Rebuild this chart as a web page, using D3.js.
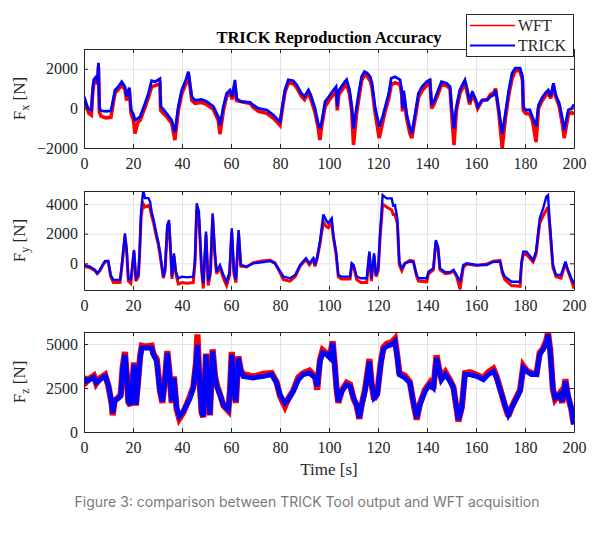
<!DOCTYPE html>
<html><head><meta charset="utf-8">
<script src="https://cdn.jsdelivr.net/npm/d3@7/dist/d3.min.js"></script>
<style>body{margin:0;background:#fff}svg{display:block}</style>
</head><body><svg id="c" width="600" height="533"></svg>
<script>
// ---------- DATA ----------
const titleText = "TRICK Reproduction Accuracy";
const seriesNames = ["WFT", "TRICK"];
const timeTicks = [0, 20, 40, 60, 80, 100, 120, 140, 160, 180, 200];
const fxTicks = [-2000, 0, 2000];
const fyTicks = [0, 2000, 4000];
const fzTicks = [0, 2500, 5000];
const xLabel = "Time [s]";
const caption = "Figure 3: comparison between TRICK Tool output and WFT acquisition";

// rows: [time s, WFT N, TRICK N]
const fxRows = [
[0,550,600],[1,100,200],[2,-250,-50],[3,-340,-80],[3.5,700,900],[4,1300,1450],[5,1450,1600],[5.5,1200,1300],
[5.9,2100,2300],[6.3,-200,0],[7,-400,-120],[9,-480,-150],[11,-450,-120],[12,300,500],[12.7,800,930],[14,950,1100],
[15.4,1200,1350],[16.7,950,1100],[17.4,400,600],[18.5,950,1050],[19.2,-250,-80],[20.2,-600,-300],[20.8,-1270,-600],
[22,-700,-500],[22.9,-600,-420],[24.9,50,250],[26.3,550,760],[27.6,1100,1400],[29,1150,1350],[31,1250,1500],
[31.3,-100,100],[32.4,-250,-50],[34,-450,-300],[35.8,-750,-600],[37.1,-1600,-1200],[38.5,-100,100],[39.9,750,930],
[41.6,1250,1440],[42.6,1750,1860],[44,400,600],[45.3,250,400],[48,300,450],[50,200,350],[52.8,-50,100],
[54.8,-600,-420],[55.5,-1300,-850],[56.9,-100,100],[58.2,600,760],[59.6,800,930],[60.5,450,600],[61.6,1200,1440],
[62.3,400,500],[64,350,340],[67.8,250,300],[69.1,50,170],[71.2,-150,0],[74.6,-250,-80],[77.3,-500,-340],
[79.3,-750,-600],[80,-850,-680],[80.7,-250,-100],[82,800,930],[83.4,1300,1440],[85.4,1250,1400],[86.8,1050,1190],
[88.8,600,760],[90,450,600],[91.6,800,930],[92.5,500,700],[94.3,-200,0],[95.6,-1000,-760],[96.3,-1600,-1020],
[97,-900,-700],[98.4,100,340],[100,400,600],[101.8,700,930],[102.9,900,1100],[103.4,-100,100],[104,700,900],
[106.5,1150,1350],[107.2,1250,1450],[108.4,700,930],[109.3,-150,85],[110,-1850,-1020],[111.3,-200,85],
[112.3,600,900],[113.3,1400,1600],[114.5,1700,1860],[115.5,1650,1800],[116.8,1400,1600],[117.5,1100,1300],
[118.8,-200,85],[120.5,-1500,-930],[121.9,-700,-420],[123,-100,100],[124.4,500,760],[125.4,1200,1520],
[127,1300,1600],[129,1200,1440],[129.7,700,900],[130,-150,0],[130.5,700,900],[131.7,-500,-300],[133.1,-1300,-1020],
[133.8,-1500,-1270],[135.2,-450,-250],[136.5,550,760],[138,900,1100],[139.9,1150,1350],[141.2,1300,1440],
[141.9,0,170],[143,250,400],[144.6,750,930],[145.9,1200,1350],[148,1150,1270],[149.4,1000,1100],[150,-100,85],
[151,-1850,-1020],[152,-100,85],[153.4,750,930],[154.8,1100,1270],[155.5,1300,1440],[156.5,750,930],[157.4,200,340],
[158.5,700,850],[160,300,420],[160.7,0,85],[162.5,400,420],[164.6,450,420],[165.9,700,600],[167.3,800,680],
[168,1000,930],[169.3,-200,-80],[170.7,-2000,-1270],[172,-500,-250],[173.4,700,930],[174.7,1500,1780],
[176,1900,2030],[178,1900,2030],[179,1400,1600],[179.3,-100,85],[180.3,-250,-80],[182,-300,-80],[183,-600,-420],
[184.5,-1700,-900],[185.5,0,170],[186.8,350,500],[188.2,600,760],[189.5,800,930],[190.5,500,600],[191.6,1150,1270],
[192.5,600,700],[194,100,250],[195.4,-900,-600],[196,-1500,-1100],[197.7,-300,-80],[199,-200,0],[200,-300,200]
];

const fyRows = [
[0,-200,-110],[2.4,-300,-220],[4.5,-500,-450],[5.4,-700,-670],[6.5,-500,-450],[7.6,-150,-110],[8.6,100,160],
[9.9,100,160],[10.9,-900,-790],[12,-1300,-1120],[14.7,-1300,-1120],[15.4,-300,-200],[16.7,1800,2020],[17.4,800,1000],
[18.1,-1200,-1010],[19.1,-1350,-1120],[20.4,800,900],[21.2,-1200,-1010],[22.2,-900,-790],[22.7,600,800],
[23.3,3100,3500],[23.9,3800,4500],[24.2,4000,4880],[24.9,3800,4400],[26.3,3900,4400],[27,3700,4150],[27.6,3200,3480],
[28.3,2800,3030],[29.4,1900,2130],[30.3,1300,1460],[31,600,790],[31.7,-200,-110],[32.4,-1000,-900],[33.1,-500,-340],
[34,2300,2580],[34.7,2700,2920],[35.4,600,790],[35.9,-1050,-900],[36.7,500,670],[37.5,-700,-560],[38.5,-1400,-1010],
[40,-1300,-900],[42,-1350,-950],[44.6,-1300,-900],[45.3,0,200],[46,3600,4050],[46.9,3000,3500],[48,-500,-340],
[48.7,-1700,-1350],[49.8,1900,2140],[50.7,-1500,-1230],[51.6,-700,-560],[52.5,3100,3370],[53.4,600,790],
[54.1,-700,-560],[55.5,-300,-110],[56.9,-1000,-790],[58.2,-1500,-1230],[59.4,-800,-600],[60.3,2100,2360],
[61.2,-700,-560],[62,-1300,-1120],[63.1,2000,2250],[64,-200,-110],[66.4,-250,-220],[69.1,50,0],[72.5,150,70],
[75.9,200,160],[77.9,50,0],[79.3,-400,-340],[81.4,-1100,-900],[84.1,-1200,-1010],[86.2,-900,-790],[88.2,-200,-110],
[90.6,250,340],[92,-100,0],[93.6,250,340],[94.3,-200,-110],[95.2,350,450],[96.3,1300,1460],[97.7,2800,3300],
[98.8,2500,2920],[99.7,2400,2700],[101.1,2700,3030],[101.8,1700,1900],[102.9,600,790],[103.8,-900,-790],
[105,-1050,-900],[108.6,-1050,-900],[109.3,-100,0],[110,-200,-110],[111.3,-1100,-900],[113,-1300,-1010],
[115.4,-1300,-1010],[116.5,600,800],[117.3,-1200,-1010],[118.4,500,670],[119.2,-900,-790],[120.1,-500,-340],
[120.8,1600,1900],[121.9,4000,4600],[123.5,3800,4380],[125.6,3600,4380],[126.2,3300,3900],[126.9,3300,3930],
[127.9,2700,3030],[128.7,-100,110],[129.7,-500,-340],[131,0,0],[133,200,110],[134.4,150,110],[135.8,-900,-790],
[136.5,-1200,-1010],[139.9,-1250,-1010],[140.6,-700,-560],[142.6,-450,-340],[143.6,1400,1570],[144.5,1000,1120],
[145.3,-450,-340],[147.5,-700,-600],[149.4,-650,-600],[150.8,-500,-450],[152.1,-900,-790],[153.5,-1750,-1240],
[154.8,-300,-110],[156.2,-50,0],[160.3,-150,-110],[164.4,-50,-110],[167.1,150,110],[169.8,200,110],[170.8,-700,-560],
[171.8,-1100,-900],[174.5,-1500,-1240],[178,-1550,-1240],[178.6,0,110],[179.3,600,790],[180.6,600,790],
[183.3,100,220],[184.5,600,790],[186,2700,3030],[187.4,3200,3700],[188.7,3600,4500],[189.4,3800,4600],
[190,2700,3030],[191.4,-300,-110],[192.7,-900,-790],[194.7,-1000,-790],[196.5,0,110],[197.3,-400,-340],
[198.9,-1150,-1010],[200,-1700,-1350]
];

const fzRows = [
[0,3150,3070],[1,2850,2900],[2.4,3050,2970],[4,3200,3100],[5,2750,2800],[6.5,3050,2970],[8.6,3250,3170],
[9.9,2650,2690],[11.3,1600,1650],[11.7,950,1080],[12.5,1800,1740],[14,1950,1930],[15,2150,2030],[15.8,3700,3640],
[16.7,4550,4390],[17.4,3300,3260],[18.1,1700,1740],[19,1500,1550],[20.4,3950,3830],[21.2,1500,1550],[22,2750,2690],
[22.9,4300,4200],[23.6,4900,4770],[25,4850,4770],[27.6,4900,4770],[28.3,4450,4390],[29.7,4150,4010],[31,2350,2310],
[32,1650,1740],[33,2950,2880],[34,4600,4490],[34.8,3500,3450],[35.8,1650,1740],[36.7,3150,3070],[37.8,1300,1360],
[38.9,750,890],[40.5,1100,1170],[42,1600,1550],[43.3,2050,1930],[44.6,2550,2500],[45.7,3900,3830],[46.3,5550,4960],
[47,3300,3260],[48,1100,1170],[48.7,850,890],[49.8,4450,4390],[50.7,2350,2310],[51.4,950,980],[52.5,4700,4580],
[53.5,3150,3070],[54.4,2600,2500],[55.5,2150,2120],[56.9,1500,1550],[58.2,1300,1360],[58.9,1200,1270],[59.6,2400,2310],
[60.3,4550,4390],[61.2,2350,2310],[62,1650,1740],[63,4300,4200],[64,3500,3450],[65,3300,3160],[69.1,3150,3070],
[73.2,3300,3160],[76.6,3350,3260],[78.6,2850,2780],[80,2050,2120],[82,1450,1650],[83.4,1900,1840],[85.4,2350,2310],
[87.5,3100,2970],[89.5,3350,3260],[92,3500,3350],[94.3,3150,3070],[95.2,2400,2590],[96.3,4100,3980],[97.4,4650,4490],
[99,4450,4390],[100.4,4300,4200],[101.5,5150,5060],[102.3,3900,3830],[103.1,2450,2500],[103.8,1650,1740],
[105.2,2350,2310],[107.2,2800,2690],[108.6,2700,2600],[110,1900,1930],[111.3,1500,1550],[112.4,750,800],
[113.4,1600,1550],[114.7,2400,2310],[116.5,4150,4010],[117.4,2750,2690],[118.4,1850,1930],[119.7,2200,2120],
[121.1,3900,3830],[122.2,4800,4680],[123.5,5000,4870],[125.6,5100,4960],[126.9,5300,5150],[127.9,4300,4200],
[128.7,3350,3260],[131,3200,3070],[133,2850,2780],[134.4,1700,1740],[135.8,700,800],[137.1,1600,1550],
[139.2,2400,2310],[141.2,2800,2690],[142.6,2450,2500],[143.9,4350,4200],[144.8,3700,3640],[145.9,3050,2970],
[147.5,3400,3260],[149.4,2950,2880],[150.8,2550,2500],[152.1,1300,1360],[152.8,600,700],[154.2,1400,1360],
[155.5,3350,3260],[157.5,3400,3260],[160.3,3250,3160],[163,3050,2970],[165,3400,3260],[167.1,3600,3450],
[168.4,3150,3070],[170.5,2150,2120],[171.8,1500,1550],[173.2,900,980],[174.5,1400,1360],[176.6,2000,1930],
[178,2400,2310],[179.3,3750,3640],[180.6,3500,3450],[182.6,3350,3260],[184.7,3300,3260],[186,4500,4390],
[187.4,4750,4680],[188.7,5200,5060],[189.4,5650,5530],[190.3,4650,4580],[191.4,2400,2500],[192.3,1850,1930],
[194.2,2200,2120],[195.2,1650,1740],[196.5,3000,2880],[197.5,2050,2120],[198.9,1300,1360],[199.9,450,420]
];

// ---------- DRAW ----------
const W = 600, H = 533;
const serif = "'Liberation Serif','Times New Roman',Times,serif";
const axisColor = "#262626";
const colors = {WFT: "#ff0000", TRICK: "#0000ff"};
const svg = d3.select("#c");
svg.append("rect").attr("width", W).attr("height", H).attr("fill", "#fff");

const x = d3.scaleLinear().domain([0, 200]).range([84, 574]);

const panels = [
  {rows: fxRows, domain: [-2000, 3000], top: 49, bottom: 148, ticks: fxTicks, sub: "x", wW: 3.6, wT: 2.8},
  {rows: fyRows, domain: [-1800, 4880], top: 191, bottom: 290, ticks: fyTicks, sub: "y", wW: 3, wT: 2.4},
  {rows: fzRows, domain: [0, 5680], top: 332, bottom: 432, ticks: fzTicks, sub: "z", wW: 6.2, wT: 5}
];

panels.forEach((p, i) => {
  const y = d3.scaleLinear().domain(p.domain).range([p.bottom, p.top]);
  const g = svg.append("g");
  const h = p.bottom - p.top;
  const [x0, x1] = x.range();

  // grid
  g.append("g").attr("transform", `translate(0,${p.bottom})`)
    .call(d3.axisBottom(x).tickValues(timeTicks).tickSize(-h).tickFormat(""))
    .call(s => { s.select(".domain").remove(); s.selectAll("line").attr("stroke", "#e4e4e4"); });
  g.append("g").attr("transform", `translate(${x0},0)`)
    .call(d3.axisLeft(y).tickValues(p.ticks).tickSize(-(x1 - x0)).tickFormat(""))
    .call(s => { s.select(".domain").remove(); s.selectAll("line").attr("stroke", "#e4e4e4"); });

  // clip
  const cid = "clip" + i;
  svg.append("clipPath").attr("id", cid).append("rect")
    .attr("x", x0).attr("y", p.top).attr("width", x1 - x0).attr("height", h);

  const lineW = d3.line().x(d => x(d[0])).y(d => y(d[1]));
  const lineT = d3.line().x(d => x(d[0])).y(d => y(d[2]));
  const lg = g.append("g").attr("clip-path", `url(#${cid})`);
  lg.append("path").datum(p.rows).attr("d", lineW).attr("fill", "none")
    .attr("stroke", colors.WFT).attr("stroke-width", p.wW).attr("stroke-linejoin", "miter").attr("stroke-miterlimit", 3);
  lg.append("path").datum(p.rows).attr("d", lineT).attr("fill", "none")
    .attr("stroke", colors.TRICK).attr("stroke-width", p.wT).attr("stroke-linejoin", "miter").attr("stroke-miterlimit", 3);

  // axes with inward ticks
  const styleAxis = s => {
    s.attr("font-family", serif).attr("font-size", 16);
    s.select(".domain").attr("stroke", axisColor);
    s.selectAll(".tick line").attr("stroke", axisColor);
    s.selectAll("text").attr("fill", axisColor).attr("font-family", serif).attr("font-size", 16);
  };
  g.append("g").attr("transform", `translate(0,${p.bottom})`)
    .call(d3.axisBottom(x).tickValues(timeTicks).tickSizeInner(-4).tickSizeOuter(0).tickPadding(10).tickFormat(d3.format("d")))
    .call(styleAxis);
  g.append("g").attr("transform", `translate(0,${p.top})`)
    .call(d3.axisTop(x).tickValues(timeTicks).tickSizeInner(-4).tickSizeOuter(0).tickFormat(""))
    .call(styleAxis);
  g.append("g").attr("transform", `translate(${x0},0)`)
    .call(d3.axisLeft(y).tickValues(p.ticks).tickSizeInner(-4).tickSizeOuter(0).tickPadding(6).tickFormat(d3.format("d")))
    .call(styleAxis);
  g.append("g").attr("transform", `translate(${x1},0)`)
    .call(d3.axisRight(y).tickValues(p.ticks).tickSizeInner(-4).tickSizeOuter(0).tickFormat(""))
    .call(styleAxis);

  // y label
  const yl = g.append("text").attr("transform", `translate(25,${(p.top + p.bottom) / 2}) rotate(-90)`)
    .attr("text-anchor", "middle").attr("font-family", serif).attr("font-size", 17).attr("fill", axisColor);
  yl.append("tspan").text("F");
  yl.append("tspan").attr("font-size", 12).attr("dy", 4).text(p.sub);
  yl.append("tspan").attr("dy", -4).text(" [N]");
});

// x label
svg.append("text").attr("x", 329).attr("y", 475).attr("text-anchor", "middle")
  .attr("font-family", serif).attr("font-size", 17).attr("fill", axisColor).text(xLabel);

// title
svg.append("text").attr("x", 329).attr("y", 43).attr("text-anchor", "middle")
  .attr("font-family", serif).attr("font-size", 16.5).attr("font-weight", "bold").attr("fill", "#000").text(titleText);

// legend
const leg = svg.append("g");
leg.append("rect").attr("x", 466.5).attr("y", 14.5).attr("width", 107).attr("height", 42)
  .attr("fill", "#fff").attr("stroke", axisColor).attr("stroke-width", 1);
seriesNames.forEach((n, k) => {
  const ly = 25.5 + k * 20;
  leg.append("line").attr("x1", 470).attr("x2", 515).attr("y1", ly).attr("y2", ly)
    .attr("stroke", colors[n]).attr("stroke-width", n === "TRICK" ? 2 : 1.3);
  leg.append("text").attr("x", 518).attr("y", ly + 5.5).attr("font-family", serif)
    .attr("font-size", 16).attr("fill", axisColor).text(n);
});

// caption
svg.append("text").attr("x", 307).attr("y", 507).attr("text-anchor", "middle")
  .attr("font-family", "Inter, 'Noto Sans', sans-serif").attr("font-size", 14).attr("fill", "#7a7a7a").text(caption);
</script></body></html>
